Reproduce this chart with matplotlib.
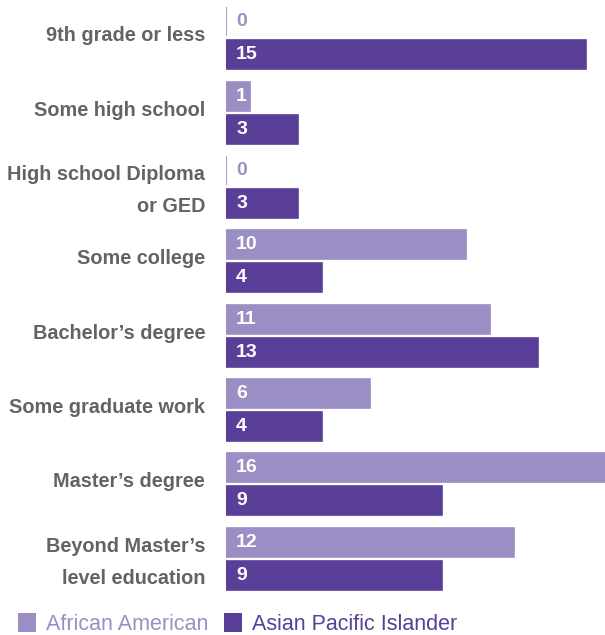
import numpy as np
import matplotlib.pyplot as plt
from matplotlib.patches import Patch

categories = ["9th grade or less", "Some high school", "High school Diploma\nor GED",
              "Some college", "Bachelor\u2019s degree", "Some graduate work",
              "Master\u2019s degree", "Beyond Master\u2019s\nlevel education"]
african_american = [0, 1, 0, 10, 11, 6, 16, 12]
asian_pacific = [15, 3, 3, 4, 13, 4, 9, 9]
series_names = ["African American", "Asian Pacific Islander"]

light = "#9b8ec4"
dark = "#5a3f99"
gray = "#636363"

plt.rcParams['font.family'] = ['Liberation Sans', 'DejaVu Sans']

fig = plt.figure(figsize=(6.05, 6.35), dpi=100)
ax = fig.add_axes([226 / 605, 39 / 635, 1 - 226 / 605, 595 / 635])

y = np.arange(len(categories))
off = 0.222
h = 0.39

ax.barh(y - off, african_american, height=h, color=light, edgecolor=light, linewidth=1.2)
ax.barh(y + off, asian_pacific, height=h, color=dark, edgecolor=dark, linewidth=1.2)

for i in range(len(categories)):
    for v, yy, c in [(african_american[i], y[i] - off, light), (asian_pacific[i], y[i] + off, dark)]:
        ax.text(0.42, yy, str(v), ha='left', va='center', fontsize=14, fontweight='bold',
                color=(c if v == 0 else 'white'))

ax.set_xlim(0, 15.8)
ax.set_ylim(len(categories) - 0.5, -0.5)
ax.set_yticks(y - 0.06)
ax.set_yticklabels(categories, fontsize=14.3, fontweight='bold', color=gray,
                   linespacing=1.85, ha='right')
ax.tick_params(axis='y', length=0, pad=15)
ax.set_xticks([])
for s in ax.spines.values():
    s.set_visible(False)

handles = [Patch(facecolor=light), Patch(facecolor=dark)]
leg = fig.legend(handles, series_names, loc='lower left', bbox_to_anchor=(-0.003, -0.03),
                 ncol=2, frameon=False, fontsize=15.5, handlelength=0.85, handleheight=0.95,
                 handletextpad=0.45, columnspacing=0.75)
for t, c in zip(leg.get_texts(), [light, dark]):
    t.set_color(c)

fig.savefig("out.png", dpi=100)
